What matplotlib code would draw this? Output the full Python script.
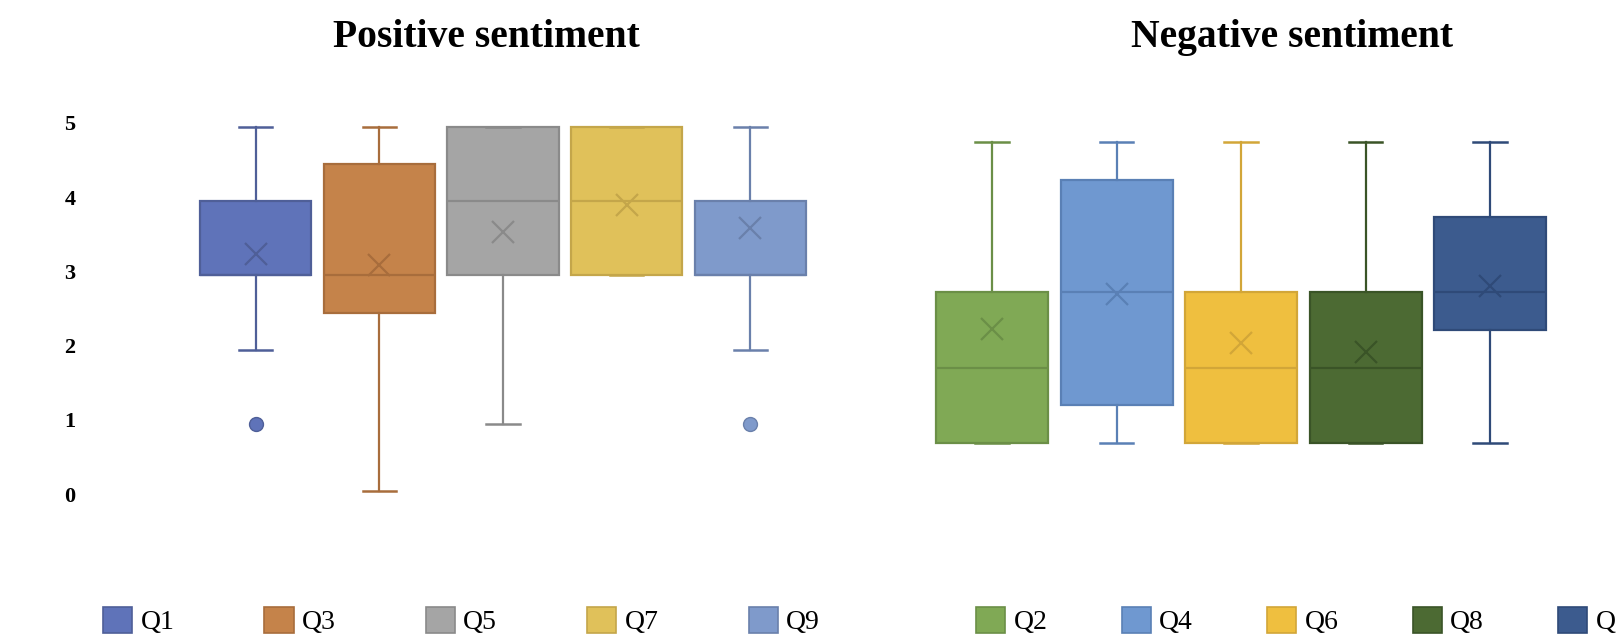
import matplotlib.pyplot as plt
import matplotlib.transforms as mtransforms
from matplotlib.patches import Patch

plt.rcParams['font.family'] = ['Liberation Serif', 'DejaVu Serif']

# five-number summaries per question (Likert answers)
pos_labels = ['Q1', 'Q3', 'Q5', 'Q7', 'Q9']
pos_low    = [2, 0.1, 1, 3, 2]
pos_q1     = [3, 2.5, 3, 3, 3]
pos_med    = [3, 3, 4, 4, 3]
pos_q3     = [4, 4.5, 5, 5, 4]
pos_high   = [5, 5, 5, 5, 5]
pos_mean   = [3.29, 3.14, 3.59, 3.95, 3.64]
pos_out    = [[1], [], [], [], [1]]
pos_fill   = ['#5f73b9', '#c5834a', '#a5a5a5', '#e0c15a', '#7f9acb']
pos_edge   = ['#4f5f98', '#a86d3c', '#8a8a8a', '#c4a64a', '#6a80ab']

neg_labels = ['Q2', 'Q4', 'Q6', 'Q8', 'Q10']
neg_low    = [1, 1, 1, 1, 1]
neg_q1     = [1, 1.5, 1, 1, 2.5]
neg_med    = [2, 3, 2, 2, 3]
neg_q3     = [3, 4.5, 3, 3, 4]
neg_high   = [5, 5, 5, 5, 5]
neg_mean   = [2.51, 2.98, 2.33, 2.21, 3.09]
neg_out    = [[], [], [], [], []]
neg_fill   = ['#80a955', '#6f98d0', '#efbf3f', '#4c6a33', '#3c5b8e']
neg_edge   = ['#6b8f47', '#5a80b5', '#d2a638', '#3a5427', '#2f4a78']


def draw_boxes(ax, labels, low, q1, med, q3, high, mean, out, fill, edge):
    for i in range(len(labels)):
        stats = [dict(label=labels[i], whislo=low[i], q1=q1[i], med=med[i],
                      q3=q3[i], whishi=high[i], mean=mean[i], fliers=out[i])]
        c = edge[i]
        ax.bxp(stats, positions=[i], widths=0.9, capwidths=0.27,
               patch_artist=True, showmeans=True, manage_ticks=False,
               boxprops=dict(facecolor=fill[i], edgecolor=c, linewidth=1.6),
               medianprops=dict(color=c, linewidth=1.6),
               whiskerprops=dict(color=c, linewidth=1.6),
               capprops=dict(color=c, linewidth=1.8),
               meanprops=dict(marker='x', markeredgecolor=c, markersize=16,
                              markeredgewidth=1.6),
               flierprops=dict(marker='o', markerfacecolor=fill[i],
                               markeredgecolor=c, markersize=10))


W, H = 1616, 643
fig = plt.figure(figsize=(W / 100, H / 100), dpi=100)

# left panel
ax1 = fig.add_axes([95 / W, 1 - 520 / H, (880 - 95) / W, 415 / H])
draw_boxes(ax1, pos_labels, pos_low, pos_q1, pos_med, pos_q3, pos_high,
           pos_mean, pos_out, pos_fill, pos_edge)
ax1.set_xlim(-1.30, 5.05)
ax1.set_ylim(-0.293, 5.296)
ax1.set_yticks([0, 1, 2, 3, 4, 5])
ax1.set_xticks([])
ax1.tick_params(axis='y', length=0, pad=14, labelsize=16)
shift = mtransforms.ScaledTranslation(0, 4 / 100, fig.dpi_scale_trans)
for lab in ax1.get_yticklabels():
    lab.set_fontweight('bold')
    lab.set_transform(lab.get_transform() + shift)

# right panel (runs past the right edge of the figure)
ax2 = fig.add_axes([890 / W, 1 - 520 / H, (W - 890) / W, 415 / H])
draw_boxes(ax2, neg_labels, neg_low, neg_q1, neg_med, neg_q3, neg_high,
           neg_mean, neg_out, neg_fill, neg_edge)
ax2.set_xlim(-0.819, 5.01)
ax2.set_ylim(-0.023, 5.49)
ax2.set_xticks([])
ax2.set_yticks([])

for ax in (ax1, ax2):
    for s in ax.spines.values():
        s.set_visible(False)
    ax.patch.set_alpha(0)

fig.text(486 / W, 1 - 47 / H, 'Positive sentiment', ha='center',
         va='baseline', fontsize=28.5, fontweight='bold')
fig.text(1292 / W, 1 - 47 / H, 'Negative sentiment', ha='center',
         va='baseline', fontsize=28.5, fontweight='bold')

# legends along the bottom
def add_legend(labels, fill, edge, x, spacing):
    handles = [Patch(facecolor=f, edgecolor=e, linewidth=1.2, label=l)
               for l, f, e in zip(labels, fill, edge)]
    fig.legend(handles=handles, loc='center left', bbox_to_anchor=(x, 1 - 621 / H),
               ncol=5, frameon=False, fontsize=20, handlelength=1.05,
               handleheight=1.05, handletextpad=0.3, columnspacing=spacing,
               borderpad=0, borderaxespad=0)

add_legend(pos_labels, pos_fill, pos_edge, 103 / W, 3.24)
add_legend(neg_labels, neg_fill, neg_edge, 976 / W, 2.67)

fig.savefig('out.png', dpi=100)
